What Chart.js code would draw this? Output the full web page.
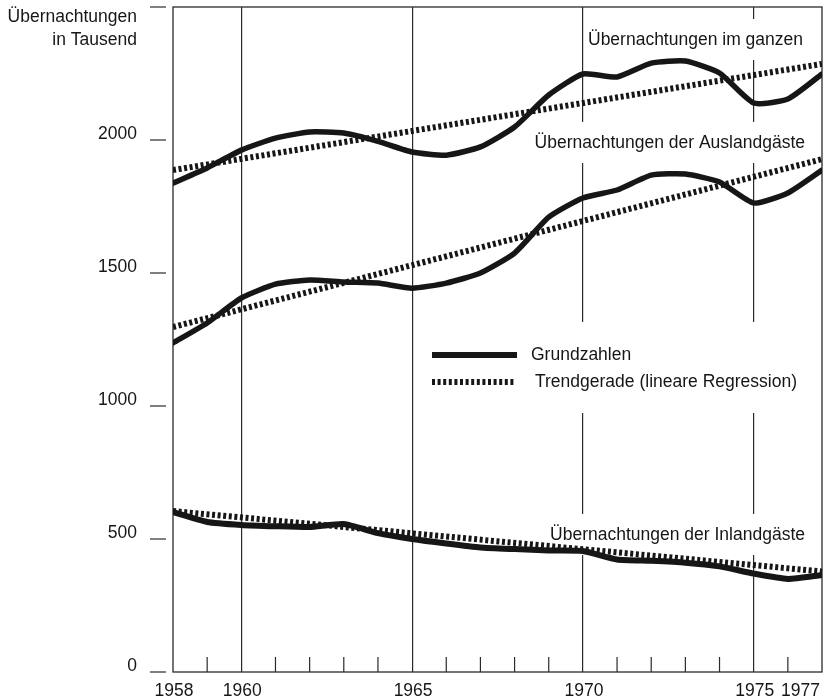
<!DOCTYPE html>
<html>
<head>
<meta charset="utf-8">
<script src="https://cdn.jsdelivr.net/npm/chart.js@4.4.1/dist/chart.umd.min.js"></script>
<style>
  html, body { margin: 0; padding: 0; background: #fff; }
</style>
</head>
<body>
<canvas id="chart" width="827" height="700"></canvas>
<script>
// Übernachtungen in Tausend, 1958-1977
const years = [1958, 1959, 1960, 1961, 1962, 1963, 1964, 1965, 1966, 1967,
               1968, 1969, 1970, 1971, 1972, 1973, 1974, 1975, 1976, 1977];
const gesamt  = [1838, 1895, 1962, 2007, 2030, 2026, 1995, 1955, 1943, 1974,
                 2049, 2169, 2248, 2237, 2289, 2297, 2252, 2139, 2154, 2248];
const ausland = [1237, 1312, 1406, 1458, 1474, 1466, 1462, 1443, 1462, 1500,
                 1575, 1710, 1782, 1812, 1868, 1872, 1842, 1763, 1801, 1887];
const inland  = [601, 564, 553, 548, 545, 556, 522, 500, 483, 468,
                 462, 457, 455, 423, 418, 411, 397, 370, 350, 365];

// Trendgerade: Endpunkte 1958 und 1977
const trendYears   = [1958, 1977];
const trendGesamt  = [1887, 2286];
const trendAusland = [1297, 1928];
const trendInland  = [605, 378];

const yearLabels = [1958, 1960, 1965, 1970, 1975, 1977];
const yTicks = [0, 500, 1000, 1500, 2000, 2500];

const seriesLabels = [
  { text: 'Übernachtungen im ganzen', right: 803, y: 40 },
  { text: 'Übernachtungen der Auslandgäste', right: 805, y: 143 },
  { text: 'Übernachtungen der Inlandgäste', right: 805, y: 535 }
];

const FONT = '17.5px "Liberation Sans", Arial, sans-serif';
const INK = '#161616';

function toXY(xs, ys) {
  return xs.map((x, i) => ({ x: x, y: ys[i] }));
}

function solid(label, values, width) {
  return {
    label: label,
    data: toXY(years, values),
    borderColor: INK,
    borderWidth: width,
    pointRadius: 0,
    tension: 0.18,
    borderCapStyle: 'round',
    borderJoinStyle: 'round',
    fill: false
  };
}

function trend(label, values) {
  return {
    label: label,
    data: toXY(trendYears, values),
    borderColor: INK,
    borderWidth: 6,
    borderDash: [3, 2.6],
    pointRadius: 0,
    tension: 0,
    fill: false
  };
}

function line(ctx, x1, y1, x2, y2) {
  ctx.beginPath();
  ctx.moveTo(x1, y1);
  ctx.lineTo(x2, y2);
  ctx.stroke();
}

const decor = {
  id: 'decor',
  beforeDatasetsDraw(chart) {
    const ctx = chart.ctx;
    const a = chart.chartArea;
    const x = chart.scales.x;
    const y = chart.scales.y;
    ctx.save();
    ctx.font = FONT;
    ctx.fillStyle = INK;
    ctx.strokeStyle = '#2a2a2a';

    // frame
    ctx.lineWidth = 1.3;
    ctx.strokeRect(a.left, a.top, a.right - a.left, a.bottom - a.top);

    // short year ticks on the bottom axis
    ctx.lineWidth = 1.2;
    years.forEach(yr => {
      if (yr % 5 !== 0 && yr !== years[0] && yr !== years[years.length - 1]) {
        const px = x.getPixelForValue(yr);
        line(ctx, px, a.bottom, px, a.bottom - 15);
      }
    });

    // detached dashes left of the y axis
    yTicks.forEach(v => {
      const py = y.getPixelForValue(v);
      line(ctx, a.left - 23, py, a.left - 7, py);
    });

    // series labels on white, covering the grid lines
    ctx.textBaseline = 'middle';
    ctx.textAlign = 'right';
    seriesLabels.forEach(l => {
      const w = ctx.measureText(l.text).width;
      ctx.fillStyle = '#fff';
      ctx.fillRect(l.right - w - 3, l.y - 21, w + 8, 41);
      ctx.fillStyle = INK;
      ctx.fillText(l.text, l.right, l.y);
    });

    // legend
    ctx.fillStyle = '#fff';
    ctx.fillRect(425, 322, 375, 91);
    ctx.strokeStyle = INK;
    ctx.lineWidth = 6;
    line(ctx, 432, 355, 517, 355);
    ctx.setLineDash([3, 2.6]);
    line(ctx, 432, 382, 515, 382);
    ctx.setLineDash([]);
    ctx.fillStyle = INK;
    ctx.textAlign = 'left';
    ctx.fillText('Grundzahlen', 531, 355);
    ctx.fillText('Trendgerade (lineare Regression)', 535, 382);

    // y axis title
    ctx.textAlign = 'right';
    ctx.fillText('Übernachtungen', 137, 17);
    ctx.fillText('in Tausend', 137, 40);

    // x labels
    yearLabels.forEach((yr, i) => {
      const px = x.getPixelForValue(yr);
      if (i === yearLabels.length - 1) {
        ctx.textAlign = 'right';
        ctx.fillText(String(yr), chart.width - 7, 691);
      } else {
        ctx.textAlign = 'center';
        ctx.fillText(String(yr), px + 1, 691);
      }
    });

    ctx.restore();
  }
};

new Chart(document.getElementById('chart'), {
  type: 'line',
  data: {
    datasets: [
      solid('Übernachtungen im ganzen', gesamt, 5.5),
      solid('Übernachtungen der Auslandgäste', ausland, 5.5),
      solid('Übernachtungen der Inlandgäste', inland, 6),
      trend('Trend im ganzen', trendGesamt),
      trend('Trend Auslandgäste', trendAusland),
      trend('Trend Inlandgäste', trendInland)
    ]
  },
  options: {
    responsive: false,
    animation: false,
    layout: { padding: { top: 7, right: 5, left: 0, bottom: 0 } },
    plugins: { legend: { display: false }, tooltip: { enabled: false } },
    scales: {
      x: {
        type: 'linear',
        min: 1958,
        max: 1977,
        afterBuildTicks: s => { s.ticks = years.map(v => ({ value: v })); },
        ticks: { display: false },
        grid: {
          drawTicks: false,
          lineWidth: 1.2,
          color: c => (c.tick && c.tick.value % 5 === 0) ? '#2a2a2a' : 'rgba(0,0,0,0)'
        },
        border: { display: false },
        afterFit: s => { s.height = 28; s.paddingLeft = 0; s.paddingRight = 0; }
      },
      y: {
        min: 0,
        max: 2500,
        afterBuildTicks: s => { s.ticks = yTicks.map(v => ({ value: v })); },
        ticks: {
          callback: v => v === 2500 ? '' : String(v),
          padding: 36,
          labelOffset: -6,
          color: INK,
          font: { family: '"Liberation Sans", Arial, sans-serif', size: 17.5 }
        },
        grid: { display: false, drawTicks: false },
        border: { display: false },
        afterFit: s => { s.width = 173; s.paddingTop = 0; s.paddingBottom = 0; }
      }
    }
  },
  plugins: [decor]
});
</script>
</body>
</html>
